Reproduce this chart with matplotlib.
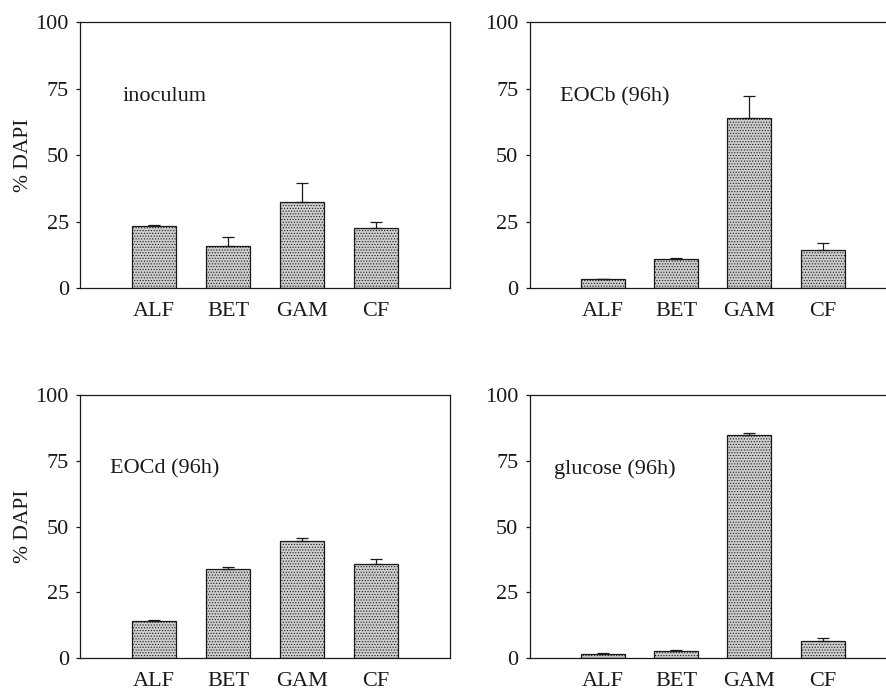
import matplotlib
matplotlib.use("Agg")
import matplotlib.pyplot as plt

plt.rcParams["font.family"] = ["Liberation Serif", "DejaVu Serif"]
plt.rcParams["hatch.color"] = "#a8a8a8"
plt.rcParams["hatch.linewidth"] = 0.5

groups = ["ALF", "BET", "GAM", "CF"]

titles = ["inoculum", "EOCb (96h)", "EOCd (96h)", "glucose (96h)"]
means = [
    [23.5, 16.0, 32.5, 22.5],
    [3.3, 11.0, 63.8, 14.3],
    [14.2, 34.0, 44.5, 35.7],
    [1.5, 2.5, 85.0, 6.5],
]
errs = [
    [0.2, 3.3, 7.0, 2.5],
    [0.2, 0.4, 8.5, 2.5],
    [0.3, 0.6, 1.2, 1.8],
    [0.3, 0.3, 0.8, 1.2],
]
yticks = [0, 25, 50, 75, 100]

INK = "#1a1a1a"
BAR = "#cdcdcd"

fig = plt.figure(figsize=(8.87, 6.91), dpi=100)

# axes boxes in figure fractions (left, bottom, width, height)
boxes = [
    (0.0902, 0.583, 0.417, 0.385),
    (0.5970, 0.583, 0.413, 0.385),
    (0.0902, 0.048, 0.417, 0.380),
    (0.5970, 0.048, 0.413, 0.380),
]
label_x = [0.116, 0.082, 0.081, 0.068]

for i, box in enumerate(boxes):
    ax = fig.add_axes(box)
    x = range(len(groups))
    ax.bar(x, means[i], width=0.6, color=BAR, edgecolor=INK, linewidth=0.9,
           hatch="......", zorder=2)
    ax.errorbar(x, means[i], yerr=[[0] * len(groups), errs[i]], fmt="none",
                ecolor=INK, elinewidth=0.9, capsize=4, capthick=0.9, zorder=3)
    ax.set_xlim(-1, 4)
    ax.set_ylim(0, 100)
    ax.set_yticks(yticks)
    ax.set_xticks(list(x))
    ax.set_xticklabels(groups)
    ax.tick_params(axis="x", length=0, pad=10, labelsize=16, colors=INK)
    ax.tick_params(axis="y", length=3, width=0.9, direction="out", pad=5,
                   labelsize=16, colors=INK)
    for s in ax.spines.values():
        s.set_color(INK)
        s.set_linewidth(0.9)
    ax.text(label_x[i], 0.72, titles[i], transform=ax.transAxes,
            fontsize=16, color=INK, va="center", ha="left")
    if i % 2 == 0:
        ax.set_ylabel("% DAPI", fontsize=15.5, color=INK, labelpad=1.5)

fig.savefig("out.png", dpi=100)
